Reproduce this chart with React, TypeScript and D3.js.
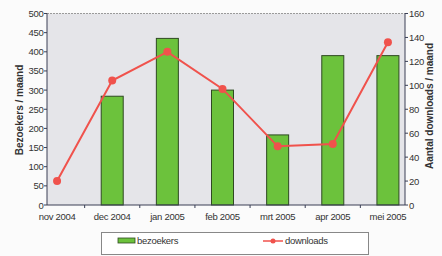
import React from "react";
import * as d3 from "d3";

const months = ["nov 2004", "dec 2004", "jan 2005", "feb 2005", "mrt 2005", "apr 2005", "mei 2005"];
const bezoekers = [0, 284, 435, 300, 183, 390, 390];
const downloads = [20, 104, 128, 97, 49, 51, 136];
const leftTicks = [0, 50, 100, 150, 200, 250, 300, 350, 400, 450, 500];
const rightTicks = [0, 20, 40, 60, 80, 100, 120, 140, 160];

const W = 442;
const H = 256;
const left = 47;
const right = 405;
const top = 13.5;
const bottom = 205;

const App = () => {
  const x = d3.scaleBand<string>().domain(months).range([29.5, 415.5]);
  const yL = d3.scaleLinear().domain([0, 500]).range([bottom, top]);
  const yR = d3.scaleLinear().domain([0, 160]).range([bottom, top]);
  const cx = (m: string) => (x(m) as number) + x.bandwidth() / 2;
  const barW = 22;

  const line = d3
    .line<number>()
    .x((d, i) => cx(months[i]))
    .y((d) => yR(d));

  const font = "'Liberation Sans', Arial, sans-serif";
  const boundaries = months.slice(1).map((m) => x(m) as number);

  return (
    <svg width={W} height={H} style={{ position: "absolute", left: 0, top: 0, background: "#fbfbfb" }} fontFamily={font}>
      <rect x={left} y={top} width={right - left} height={bottom - top} fill="#e5e5e9" />
      <line x1={left} x2={right} y1={top} y2={top} stroke="#9a9a9a" strokeDasharray="2,1" />

      {months.map((m, i) =>
        bezoekers[i] > 0 ? (
          <rect
            key={m}
            x={cx(m) - barW / 2}
            y={yL(bezoekers[i])}
            width={barW}
            height={bottom - yL(bezoekers[i])}
            fill="#6cc23c"
            stroke="#2f4a22"
            strokeWidth={1}
          />
        ) : null
      )}

      <path d={line(downloads) || ""} fill="none" stroke="#f0524c" strokeWidth={2} />
      {downloads.map((d, i) => (
        <circle key={i} cx={cx(months[i])} cy={yR(d)} r={4} fill="#f0524c" />
      ))}

      {/* left axis */}
      <line x1={left} x2={left} y1={top} y2={bottom} stroke="#3a3f55" />
      {leftTicks.map((t) => (
        <g key={t}>
          <line x1={left - 3} x2={left} y1={yL(t)} y2={yL(t)} stroke="#3a3f55" />
          <text x={left - 3.5} y={yL(t) + 3.5} textAnchor="end" fontSize={9.5} fill="#333" letterSpacing={-0.3}>
            {t}
          </text>
        </g>
      ))}

      {/* right axis */}
      <line x1={right} x2={right} y1={top} y2={bottom} stroke="#3a3f55" />
      {rightTicks.map((t) => (
        <g key={t}>
          <line x1={right} x2={right + 3} y1={yR(t)} y2={yR(t)} stroke="#3a3f55" />
          <text x={right + 4} y={yR(t) + 3.5} fontSize={9.5} fill="#333" letterSpacing={-0.3}>
            {t}
          </text>
        </g>
      ))}

      {/* x axis */}
      <line x1={left} x2={right} y1={bottom} y2={bottom} stroke="#3a3f55" />
      {boundaries.map((b, i) => (
        <line key={i} x1={b} x2={b} y1={bottom} y2={bottom + 3} stroke="#3a3f55" />
      ))}
      {months.map((m) => (
        <text key={m} x={cx(m)} y={bottom + 15} textAnchor="middle" fontSize={9.5} fill="#333" letterSpacing={-0.3}>
          {m}
        </text>
      ))}

      <text
        transform={`translate(23,110) rotate(-90)`}
        textAnchor="middle"
        fontSize={10}
        fontWeight="bold"
        fill="#333"
      >
        Bezoekers / maand
      </text>
      <text
        transform={`translate(433,106) rotate(-90)`}
        textAnchor="middle"
        fontSize={10}
        fontWeight="bold"
        fill="#333"
      >
        Aantal downloads / maand
      </text>

      {/* legend */}
      <rect x={101.5} y={232.5} width={267} height={22} fill="#fff" stroke="#888" />
      <rect x={118} y={238} width={17} height={5} fill="#6cc23c" stroke="#2f4a22" strokeWidth={0.8} />
      <text x={137} y={244} fontSize={9.5} fill="#333" letterSpacing={-0.3}>
        bezoekers
      </text>
      <line x1={263} x2={283} y1={241} y2={241} stroke="#f0524c" strokeWidth={1.5} />
      <circle cx={273} cy={241} r={2.5} fill="#f0524c" />
      <text x={285} y={244} fontSize={9.5} fill="#333" letterSpacing={-0.3}>
        downloads
      </text>
    </svg>
  );
};

export default App;
